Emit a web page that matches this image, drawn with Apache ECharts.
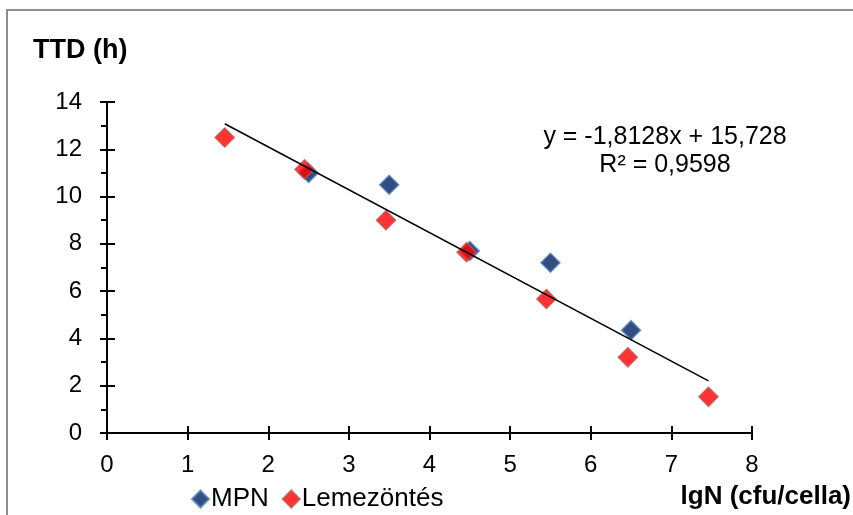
<!DOCTYPE html>
<html>
<head>
<meta charset="utf-8">
<script src="https://cdn.jsdelivr.net/npm/echarts@6/dist/echarts.min.js"></script>
<style>
html, body { margin: 0; padding: 0; background: #fff; }
#chart { width: 853px; height: 515px; }
</style>
</head>
<body>
<div id="chart"></div>
<script>
// measured points
var mpnData = [[2.5, 11.0], [3.5, 10.5], [4.5, 7.7], [5.5, 7.2], [6.5, 4.35]];
var lemezData = [[1.46, 12.5], [2.45, 11.15], [3.46, 9.0], [4.46, 7.65], [5.45, 5.67], [6.46, 3.2], [7.46, 1.53]];
// trend line as printed on the chart
var slope = -1.8128;
var intercept = 15.728;
var r2 = 0.9598;
var trendX = [1.46, 7.46];

var font = '"Liberation Sans", Arial, sans-serif';

var trendData = trendX.map(function (x) { return [x, slope * x + intercept]; });
function fmt(v) { return String(v).replace('.', ','); }

var chart = echarts.init(document.getElementById('chart'));

var option = {
    animation: false,
    textStyle: { fontFamily: font, color: '#000' },
    title: {
        text: 'TTD (h)',
        left: 33, top: 37, padding: 0,
        textStyle: { fontFamily: font, fontSize: 27, fontWeight: 'bold', color: '#000' }
    },
    legend: {
        data: ['MPN', 'Lemezöntés'],
        left: 186, top: 481,
        itemWidth: 17, itemHeight: 17, itemGap: 13,
        icon: 'diamond',
        textStyle: { fontFamily: font, fontSize: 26, color: '#000', padding: [0, 0, 0, -3] }
    },
    grid: { left: 107, right: 101, top: 102, bottom: 82 },
    xAxis: [
        {
            type: 'value', min: 0, max: 8, interval: 1, position: 'bottom',
            axisLine: { lineStyle: { color: '#000', width: 2 } },
            axisTick: { inside: false, length: 7, lineStyle: { color: '#000', width: 2 } },
            axisLabel: { margin: 20, fontSize: 24, color: '#000', fontFamily: font },
            splitLine: { show: false }
        },
        {
            type: 'value', min: 0, max: 8, interval: 1, position: 'bottom', offset: 0,
            axisLine: { show: false },
            axisTick: { inside: true, length: 7, lineStyle: { color: '#000', width: 2 } },
            axisLabel: { show: false },
            splitLine: { show: false }
        }
    ],
    yAxis: [
        {
            type: 'value', min: 0, max: 14, interval: 2, position: 'left',
            axisLine: { show: true, lineStyle: { color: '#000', width: 2 } },
            axisTick: { show: true, inside: false, length: 7, lineStyle: { color: '#000', width: 2 } },
            minorTick: { show: true, splitNumber: 2, length: 6, lineStyle: { color: '#000', width: 2 } },
            axisLabel: { margin: 25, fontSize: 24, color: '#000', fontFamily: font },
            splitLine: { show: false }
        },
        {
            type: 'value', min: 0, max: 14, interval: 2, position: 'left', offset: 0,
            axisLine: { show: false },
            axisTick: { show: true, inside: true, length: 8, lineStyle: { color: '#000', width: 2 } },
            axisLabel: { show: false },
            splitLine: { show: false }
        }
    ],
    graphic: [
        {
            type: 'rect', silent: true,
            shape: { x: 7, y: 10, width: 900, height: 600 },
            style: { fill: 'none', stroke: '#8c8c8c', lineWidth: 2 }
        },
        {
            type: 'text', x: 665, y: 123, silent: true,
            style: {
                text: 'y = ' + fmt(slope) + 'x + ' + fmt(intercept) + '\nR² = ' + fmt(r2),
                font: '25px ' + font, fill: '#000', align: 'center', verticalAlign: 'top',
                lineHeight: 28
            }
        },
        {
            type: 'text', x: 851, y: 497, silent: true,
            style: {
                text: 'lgN (cfu/cella)',
                font: 'bold 26px ' + font, fill: '#000', align: 'right', verticalAlign: 'middle'
            }
        }
    ],
    series: [
        {
            name: 'MPN', type: 'scatter', xAxisIndex: 0, yAxisIndex: 0,
            symbol: 'diamond', symbolSize: 19,
            itemStyle: { color: '#002060', borderColor: '#4f81bd', borderWidth: 1.5 },
            data: mpnData, z: 2
        },
        {
            name: 'Lemezöntés', type: 'scatter', xAxisIndex: 0, yAxisIndex: 0,
            symbol: 'diamond', symbolSize: 19,
            itemStyle: { color: '#ff0000', borderColor: '#c0504d', borderWidth: 1.5 },
            data: lemezData, z: 3
        },
        {
            name: 'trend', type: 'line', xAxisIndex: 0, yAxisIndex: 0,
            symbol: 'none', silent: true,
            lineStyle: { color: '#000', width: 1.5 },
            data: trendData, z: 4
        }
    ]
};

chart.setOption(option);
</script>
</body>
</html>
